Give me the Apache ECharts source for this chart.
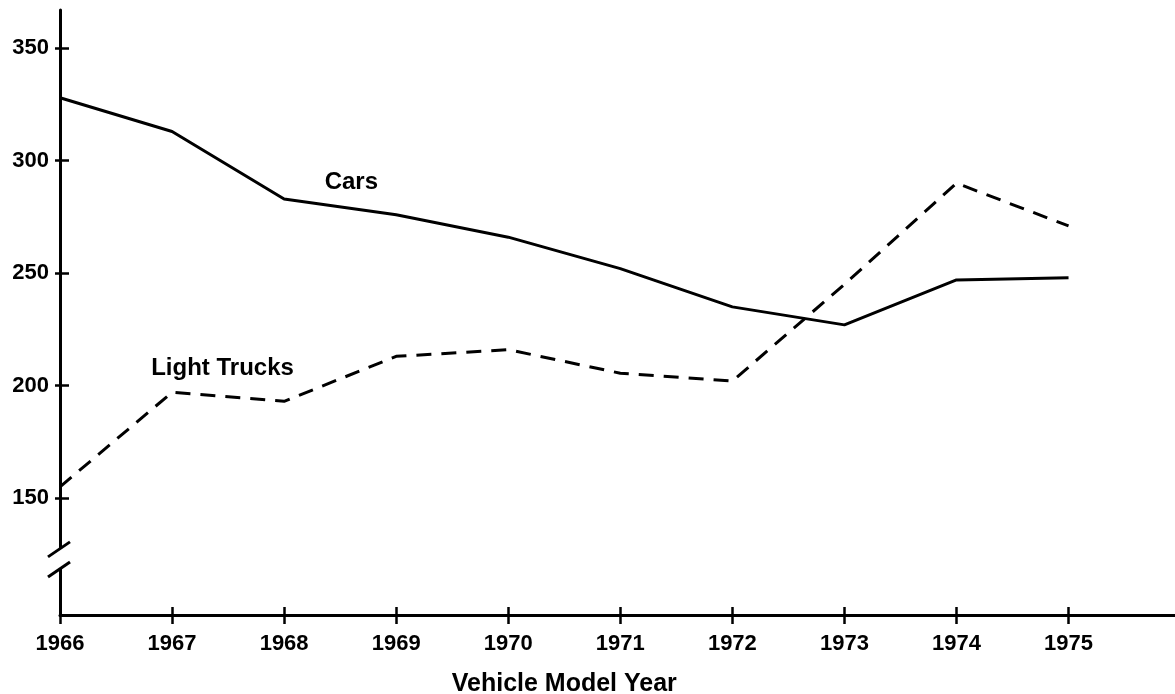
<!DOCTYPE html>
<html>
<head>
<meta charset="utf-8">
<script src="https://cdn.jsdelivr.net/npm/echarts@6/dist/echarts.min.js"></script>
<style>
html,body{margin:0;padding:0;background:#fff;}
#chart{width:1175px;height:694px;}
</style>
</head>
<body>
<div id="chart"></div>
<script>
const years = [1966, 1967, 1968, 1969, 1970, 1971, 1972, 1973, 1974, 1975];
const cars = [328, 313, 283, 276, 266, 252, 235, 227, 247, 248];
const lightTrucks = [155, 197, 193, 213, 216, 205.5, 202, 245, 290, 271];
const yTicks = [150, 200, 250, 300, 350];
const seriesNames = ['Cars', 'Light Trucks'];
const xTitle = 'Vehicle Model Year';

const FONT = '"Liberation Sans", Arial, Helvetica, sans-serif';
const chart = echarts.init(document.getElementById('chart'), null, {renderer: 'canvas'});

const pairs = (xs, ys) => xs.map((x, i) => [x, ys[i]]);

const xBase = {
  type: 'value', min: 1966, max: 1975.95,
  splitLine: {show: false}
};
const yBase = {
  type: 'value', min: 98, max: 367,
  splitLine: {show: false}
};

const option = {
  backgroundColor: '#fff',
  animation: false,
  grid: {left: 60, right: 0, top: 10, bottom: 79, containLabel: false},
  xAxis: [
    Object.assign({}, xBase, {
      axisLine: {show: true, lineStyle: {color: '#000', width: 3}},
      axisTick: {show: true, customValues: years, length: 9, lineStyle: {color: '#000', width: 2.5}},
      axisLabel: {show: true, customValues: years, margin: 18, color: '#000',
        fontFamily: FONT, fontWeight: 'bold', fontSize: 22,
        formatter: v => String(Math.round(v))}
    }),
    Object.assign({}, xBase, {
      position: 'bottom',
      axisLine: {show: false},
      axisTick: {show: true, inside: true, customValues: years, length: 8, lineStyle: {color: '#000', width: 2.5}},
      axisLabel: {show: false}
    })
  ],
  yAxis: [
    Object.assign({}, yBase, {
      axisLine: {show: true, lineStyle: {color: '#000', width: 3}},
      axisTick: {show: true, customValues: yTicks, length: 5, lineStyle: {color: '#000', width: 2.5}},
      axisLabel: {show: true, customValues: yTicks, margin: 11, color: '#000',
        fontFamily: FONT, fontWeight: 'bold', fontSize: 22}
    }),
    Object.assign({}, yBase, {
      position: 'left',
      axisLine: {show: false},
      axisTick: {show: true, inside: true, customValues: yTicks, length: 9, lineStyle: {color: '#000', width: 2.5}},
      axisLabel: {show: false}
    })
  ],
  series: [
    {
      name: seriesNames[0], type: 'line', data: pairs(years, cars),
      symbol: 'none', lineStyle: {color: '#000', width: 3, type: 'solid'},
      z: 3,
      markPoint: {
        symbol: 'circle', symbolSize: 0, silent: true,
        data: [{coord: [1968.6, 290.4], label: {show: true, position: 'inside', formatter: seriesNames[0],
          color: '#000', fontFamily: FONT, fontWeight: 'bold', fontSize: 24}}]
      }
    },
    {
      name: seriesNames[1], type: 'line', data: pairs(years, lightTrucks),
      symbol: 'none', lineStyle: {color: '#000', width: 3, type: [15, 10]},
      z: 3,
      markPoint: {
        symbol: 'circle', symbolSize: 0, silent: true,
        data: [{coord: [1967.45, 207.8], label: {show: true, position: 'inside', formatter: seriesNames[1],
          color: '#000', fontFamily: FONT, fontWeight: 'bold', fontSize: 24}}]
      }
    }
  ]
};
chart.setOption(option);

// axis break decoration and x-axis title, positioned through the axis scales
function p(x, y) { return chart.convertToPixel({xAxisIndex: 0, yAxisIndex: 0}, [x, y]); }
const axisX = p(1966, 150)[0];
const breakTop = p(1966, 127.4)[1];
const breakBot = p(1966, 118.9)[1];
const titlePos = p(1970.5, 98);
chart.setOption({
  graphic: [
    {type: 'rect', z: 100, shape: {x: axisX - 4, y: breakTop, width: 8, height: breakBot - breakTop},
      style: {fill: '#fff'}},
    {type: 'line', z: 101, shape: {x1: axisX - 12, y1: breakTop + 8, x2: axisX + 10, y2: breakTop - 7},
      style: {stroke: '#000', lineWidth: 3}},
    {type: 'line', z: 101, shape: {x1: axisX - 12, y1: breakBot + 9, x2: axisX + 10, y2: breakBot - 6},
      style: {stroke: '#000', lineWidth: 3}},
    {type: 'text', z: 101, x: titlePos[0], y: 684,
      style: {text: xTitle, fill: '#000', font: 'bold 25px ' + FONT, textAlign: 'center', textVerticalAlign: 'middle'}}
  ]
});
</script>
</body>
</html>
